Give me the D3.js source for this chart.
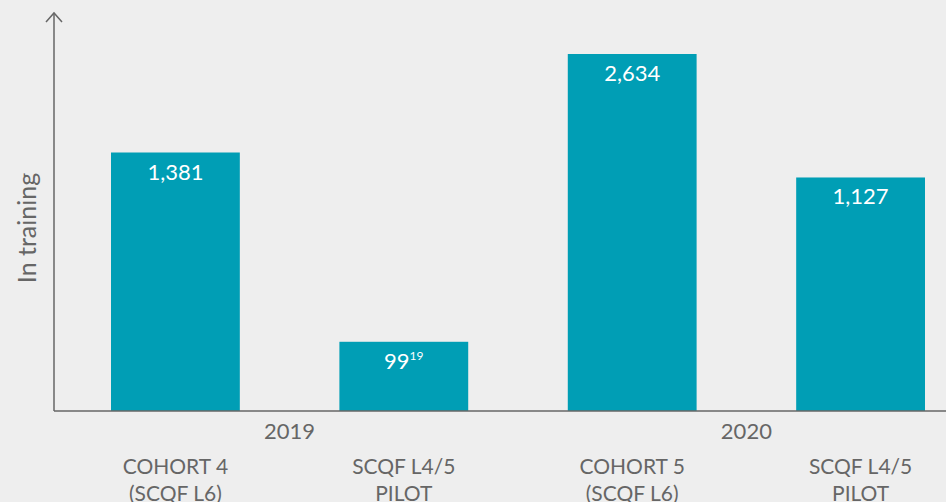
<!DOCTYPE html>
<html>
<head>
<meta charset="utf-8">
<script src="https://cdn.jsdelivr.net/npm/d3@7"></script>
<style>
    html, body { margin: 0; padding: 0; background: #eeeeee; }
    text { font-family: "Lato", "Open Sans", sans-serif; }
</style>
</head>
<body>
<div id="chart"></div>
<script>
// Chart data
const years = ["2019", "2020"];
const categories = ["COHORT 4|(SCQF L6)", "SCQF L4/5|PILOT", "COHORT 5|(SCQF L6)", "SCQF L4/5|PILOT"];
const barYears = ["2019", "2019", "2020", "2020"];
const values = [1381, 99, 2634, 1127];
const footnotes = ["", "19", "", ""];

const width = 946;
const height = 502;
const margin = { top: 13, right: 0, bottom: 91, left: 54 };
const baseY = height - margin.bottom;

const svg = d3.select("#chart")
    .append("svg")
    .attr("width", width)
    .attr("height", height);

svg.append("rect")
    .attr("width", width)
    .attr("height", height)
    .attr("fill", "#eeeeee");

const bars = values.map((v, i) => ({ key: i, value: v, year: barYears[i], label: categories[i], note: footnotes[i] }));

// x: one band per bar
const x = d3.scaleBand()
    .domain(bars.map(d => d.key))
    .range([111, 925])
    .paddingInner(0.436)
    .paddingOuter(0);

// y: the source chart is not drawn to linear scale, sqrt approximates it
const y = d3.scaleSqrt()
    .domain([0, d3.max(values)])
    .range([baseY, 54]);

// Bars
svg.selectAll(".bar")
    .data(bars)
    .enter()
    .append("rect")
    .attr("class", "bar")
    .attr("x", d => x(d.key))
    .attr("y", d => y(d.value))
    .attr("width", x.bandwidth())
    .attr("height", d => baseY - y(d.value))
    .attr("fill", "#009eb5");

// Value labels
const vlab = svg.selectAll(".val")
    .data(bars)
    .enter()
    .append("text")
    .attr("class", "val")
    .attr("x", d => x(d.key) + x.bandwidth() / 2)
    .attr("y", d => y(d.value) + 27)
    .attr("text-anchor", "middle")
    .attr("fill", "#ffffff")
    .style("font-size", "22px");

vlab.append("tspan").text(d => d3.format(",")(d.value));
vlab.filter(d => d.note)
    .append("tspan")
    .attr("dy", -9)
    .style("font-size", "12px")
    .text(d => d.note);

// Axes
const axisColor = "#666666";

svg.append("line")
    .attr("x1", margin.left).attr("x2", width)
    .attr("y1", baseY).attr("y2", baseY)
    .attr("stroke", axisColor)
    .attr("stroke-width", 1.5);

svg.append("line")
    .attr("x1", margin.left).attr("x2", margin.left)
    .attr("y1", margin.top).attr("y2", baseY)
    .attr("stroke", axisColor)
    .attr("stroke-width", 1.5);

svg.append("path")
    .attr("d", `M${margin.left - 8},${margin.top + 9}L${margin.left},${margin.top}L${margin.left + 8},${margin.top + 9}`)
    .attr("fill", "none")
    .attr("stroke", axisColor)
    .attr("stroke-width", 1.5);

// Y axis title
svg.append("text")
    .attr("transform", `translate(36, 228) rotate(-90)`)
    .attr("text-anchor", "middle")
    .attr("fill", axisColor)
    .style("font-size", "25px")
    .text("In training");

// Year labels centred under each pair
years.forEach(yr => {
    const inYear = bars.filter(d => d.year === yr);
    const cx = d3.mean(inYear, d => x(d.key) + x.bandwidth() / 2);
    svg.append("text")
        .attr("x", cx)
        .attr("y", 439)
        .attr("text-anchor", "middle")
        .attr("fill", axisColor)
        .style("font-size", "22px")
        .text(yr);
});

// Category labels (two lines)
const clab = svg.selectAll(".cat")
    .data(bars)
    .enter()
    .append("text")
    .attr("class", "cat")
    .attr("text-anchor", "middle")
    .attr("fill", axisColor)
    .style("font-size", "21px");

clab.selectAll("tspan")
    .data(d => d.label.split("|").map(s => ({ s, cx: x(d.key) + x.bandwidth() / 2 })))
    .enter()
    .append("tspan")
    .attr("x", t => t.cx)
    .attr("y", (t, i) => 474 + i * 27)
    .text(t => t.s);
</script>
</body>
</html>
